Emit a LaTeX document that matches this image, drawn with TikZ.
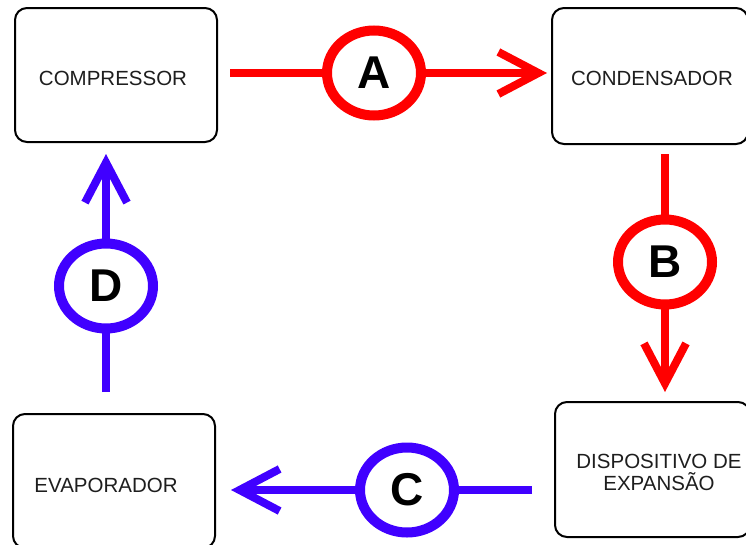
\documentclass[tikz,border=0pt]{standalone}
\usepackage{fontspec}
\setmainfont{Liberation Sans}
\usetikzlibrary{arrows.meta,shapes.geometric}
\definecolor{flowred}{RGB}{255,0,0}
\definecolor{flowblue}{RGB}{64,0,255}
\definecolor{labelink}{RGB}{30,30,30}
\begin{document}
\begin{tikzpicture}[x=1pt,y=-1pt,
  unitbox/.style={draw=black, line width=2pt, rounded corners=12pt, inner sep=0pt},
  unitlabel/.style={text=labelink, font=\fontsize{20.5}{22}\selectfont, inner sep=0pt, align=center},
  flow/.style={line width=8pt, -{Straight Barb[length=40pt,width=42pt,line width=8pt]}},
  stage/.style={ellipse, draw, line width=10pt, fill=white, minimum width=94pt, minimum height=85pt,
    inner sep=0pt, font=\fontsize{46}{46}\selectfont\bfseries},
]
\useasboundingbox (0,0) rectangle (746,544);
\clip (0,0) rectangle (746,544);

% components of the refrigeration cycle
\node[unitbox, minimum width=202pt, minimum height=134pt] (comp) at (116,75) {};
\node[unitbox, minimum width=196pt, minimum height=136pt] (cond) at (650,76) {};
\node[unitbox, minimum width=195pt, minimum height=135pt] (disp) at (652.5,469.5) {};
\node[unitbox, minimum width=202pt, minimum height=134pt] (evap) at (114,481) {};

\node[unitlabel] (compL) at (113,78) {COMPRESSOR};
\node[unitlabel] (condL) at (652,78) {CONDENSADOR};
\node[unitlabel] (dispL) at (659,472) {DISPOSITIVO DE\\EXPANSÃO};
\node[unitlabel] (evapL) at (106,485) {EVAPORADOR};

% stage markers on the refrigerant lines
\coordinate (pA) at (374,73);
\coordinate (pB) at (665,262);
\coordinate (pC) at (407,490);
\coordinate (pD) at (106,286);

% refrigerant lines
\draw[flow, flowred, shorten <=12pt, shorten >=4pt] (comp.east |- pA) -- (cond.west |- pA);
\draw[flow, flowred, shorten <=9pt, shorten >=9pt] (cond.south -| pB) -- (disp.north -| pB);
\draw[flow, flowblue, shorten <=22pt, shorten >=15pt] (disp.west |- pC) -- (evap.east |- pC);
\draw[flow, flowblue, shorten <=21pt, shorten >=11pt] (evap.north -| pD) -- (comp.south -| pD);

\node[stage, draw=flowred] (cA) at (pA) {A};
\node[stage, draw=flowred] (cB) at (pB) {B};
\node[stage, draw=flowblue] (cC) at (pC) {C};
\node[stage, draw=flowblue] (cD) at (pD) {D};
\end{tikzpicture}
\end{document}
